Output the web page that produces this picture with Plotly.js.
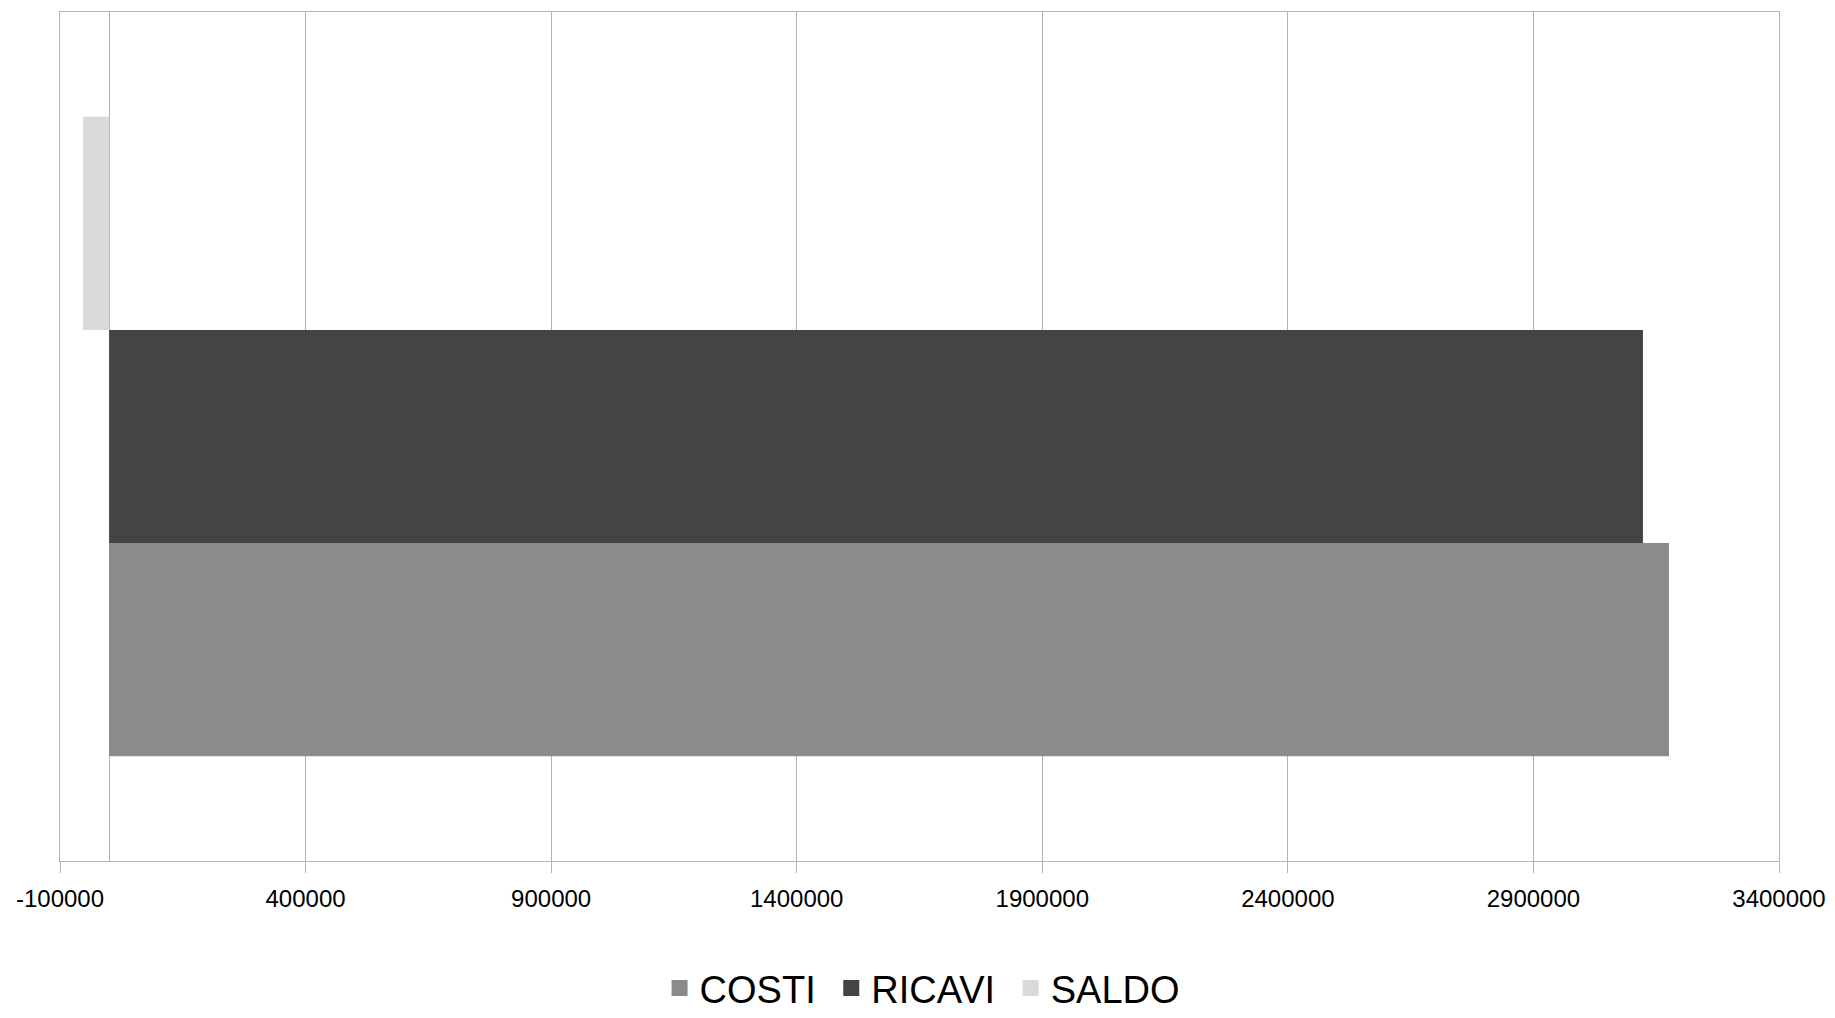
<!DOCTYPE html>
<html>
<head>
<meta charset="utf-8">
<script src="https://cdn.plot.ly/plotly-3.0.1.min.js"></script>
<style>html,body{margin:0;padding:0;background:#fff;}#chart{width:1835px;height:1018px;}</style>
</head>
<body>
<div id="chart"></div>
<script>
const category = ['Totale'];
const seriesNames = ['COSTI', 'RICAVI', 'SALDO'];
const costi = [3176000];
const ricavi = [3123000];
const saldo = [-53000];
const xTickVals = [-100000, 400000, 900000, 1400000, 1900000, 2400000, 2900000, 3400000];
const colors = ['#8b8b8b', '#444444', '#d9d9d9'];

const values = [costi, ricavi, saldo];
const barTraces = seriesNames.map((name, i) => ({
  type: 'bar',
  orientation: 'h',
  name: name,
  legendgroup: name,
  showlegend: false,
  y: category,
  x: values[i],
  marker: {color: colors[i], line: {width: 0}},
  hoverinfo: 'x+name'
}));
// legend entries with larger square swatches (extra spacing after all but the last)
const legendTraces = seriesNames.map((name, i) => ({
  type: 'scatter',
  mode: 'markers',
  name: i < seriesNames.length - 1 ? name + '\u00a0' : name,
  legendgroup: name,
  showlegend: true,
  x: [null],
  y: [null],
  marker: {symbol: 'square', size: 16, color: colors[i], line: {width: 0}},
  hoverinfo: 'skip'
}));

const layout = {
  width: 1835,
  height: 1018,
  margin: {l: 60, r: 56, t: 12, b: 157, autoexpand: false},
  paper_bgcolor: '#ffffff',
  plot_bgcolor: '#ffffff',
  font: {family: '"Liberation Sans", Arial, sans-serif', color: '#000'},
  barmode: 'group',
  bargap: 0.247,
  bargroupgap: 0,
  showlegend: true,
  legend: {
    orientation: 'h',
    x: 0.5015, xanchor: 'center',
    y: -0.187, yanchor: 'bottom',
    font: {size: 38, color: '#000'},
    traceorder: 'normal',
    itemwidth: 30,
    itemsizing: 'trace',
    borderwidth: 0
  },
  xaxis: {
    range: [-100000, 3400000],
    tickmode: 'array',
    tickvals: xTickVals,
    ticktext: xTickVals.map(v => String(v)),
    showgrid: true,
    gridcolor: '#b3b3b3',
    gridwidth: 1,
    zeroline: true,
    zerolinecolor: '#b3b3b3',
    zerolinewidth: 1,
    showline: true,
    linecolor: '#b3b3b3',
    linewidth: 1,
    mirror: true,
    ticks: 'outside',
    ticklen: 11,
    tickcolor: '#b3b3b3',
    tickfont: {size: 24, color: '#000'},
    ticklabelstandoff: 5,
    fixedrange: true
  },
  yaxis: {
    type: 'category',
    showticklabels: false,
    showgrid: false,
    zeroline: false,
    showline: true,
    linecolor: '#b3b3b3',
    linewidth: 1,
    mirror: true,
    ticks: '',
    fixedrange: true
  }
};

Plotly.newPlot('chart', barTraces.concat(legendTraces), layout, {displayModeBar: false, staticPlot: true});
</script>
</body>
</html>
